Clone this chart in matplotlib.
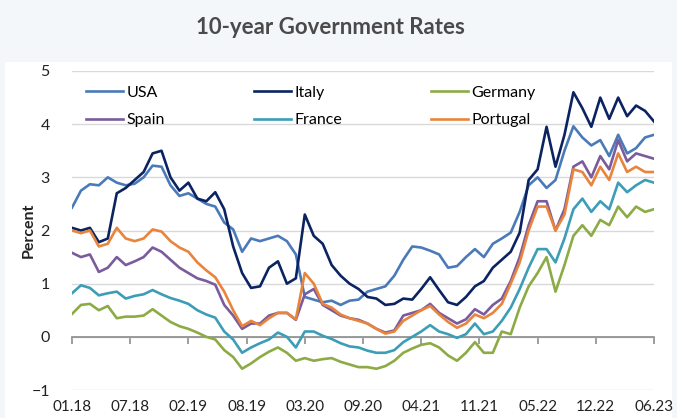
import numpy as np
import matplotlib
matplotlib.use('Agg')
import matplotlib.pyplot as plt

plt.rcParams['font.family'] = ['Lato', 'DejaVu Sans']

# month index: 0 = Jan 2018 ... 65 = Jun 2023
months = list(range(66))

usa = [2.43, 2.75, 2.87, 2.85, 3.0, 2.9, 2.85, 2.88, 3.0, 3.22, 3.2, 2.85,
       2.65, 2.7, 2.6, 2.5, 2.45, 2.15, 2.02, 1.6, 1.85, 1.8, 1.85, 1.9,
       1.8, 1.55, 0.75, 0.7, 0.65, 0.68, 0.6, 0.68, 0.7, 0.85, 0.9, 0.95,
       1.15, 1.45, 1.7, 1.68, 1.62, 1.55, 1.3, 1.33, 1.5, 1.65, 1.5, 1.75,
       1.85, 1.96, 2.35, 2.85, 3.0, 2.8, 2.95, 3.5, 3.96, 3.75, 3.6, 3.7,
       3.4, 3.8, 3.45, 3.55, 3.75, 3.8]
italy = [2.05, 2.0, 2.05, 1.78, 1.85, 2.7, 2.8, 2.95, 3.1, 3.45, 3.5, 3.0,
         2.75, 2.9, 2.6, 2.55, 2.72, 2.4, 1.7, 1.2, 0.92, 0.95, 1.3, 1.42,
         1.0, 1.1, 2.3, 1.9, 1.75, 1.35, 1.15, 1.0, 0.9, 0.75, 0.72, 0.6,
         0.62, 0.72, 0.7, 0.9, 1.12, 0.88, 0.65, 0.6, 0.75, 0.95, 1.05, 1.3,
         1.45, 1.6, 1.96, 2.95, 3.15, 3.95, 3.2, 3.8, 4.6, 4.3, 3.95, 4.5,
         4.1, 4.5, 4.15, 4.35, 4.25, 4.05]
germany = [0.43, 0.6, 0.62, 0.5, 0.58, 0.35, 0.38, 0.38, 0.4, 0.52, 0.4, 0.28,
           0.2, 0.15, 0.08, 0.0, -0.05, -0.25, -0.38, -0.6, -0.5, -0.38, -0.28, -0.2,
           -0.3, -0.45, -0.4, -0.45, -0.42, -0.4, -0.47, -0.52, -0.57, -0.57, -0.6, -0.55,
           -0.45, -0.3, -0.22, -0.15, -0.12, -0.2, -0.35, -0.45, -0.3, -0.1, -0.3, -0.3,
           0.1, 0.05, 0.55, 0.95, 1.2, 1.5, 0.85, 1.35, 1.9, 2.1, 1.9, 2.2,
           2.1, 2.45, 2.25, 2.45, 2.35, 2.4]
spain = [1.58, 1.5, 1.55, 1.22, 1.3, 1.5, 1.35, 1.42, 1.5, 1.68, 1.6, 1.45,
         1.3, 1.2, 1.1, 1.05, 0.98, 0.6, 0.4, 0.15, 0.25, 0.25, 0.4, 0.45,
         0.45, 0.32, 0.8, 0.9, 0.6, 0.5, 0.4, 0.35, 0.32, 0.25, 0.15, 0.08,
         0.12, 0.4, 0.45, 0.5, 0.62, 0.45, 0.35, 0.25, 0.33, 0.52, 0.42, 0.6,
         0.72, 1.05, 1.5, 2.1, 2.55, 2.55, 2.0, 2.4, 3.2, 3.3, 3.0, 3.4,
         3.15, 3.7, 3.3, 3.45, 3.4, 3.35]
france = [0.82, 0.97, 0.92, 0.78, 0.82, 0.85, 0.72, 0.77, 0.8, 0.88, 0.8, 0.73,
          0.68, 0.62, 0.5, 0.42, 0.36, 0.1, -0.05, -0.3, -0.2, -0.12, -0.05, 0.08,
          0.0, -0.2, 0.1, 0.1, 0.02, -0.04, -0.12, -0.18, -0.2, -0.26, -0.3, -0.3,
          -0.25, -0.1, 0.0, 0.1, 0.22, 0.1, 0.05, -0.02, 0.05, 0.25, 0.05, 0.1,
          0.3, 0.55, 0.9, 1.3, 1.65, 1.65, 1.4, 1.85, 2.4, 2.6, 2.35, 2.55,
          2.4, 2.9, 2.72, 2.85, 2.95, 2.9]
portugal = [2.0, 1.95, 2.0, 1.7, 1.75, 2.05, 1.85, 1.8, 1.85, 2.02, 1.98, 1.8,
            1.68, 1.6, 1.4, 1.25, 1.12, 0.85, 0.5, 0.2, 0.3, 0.22, 0.35, 0.45,
            0.45, 0.33, 1.2, 1.0, 0.62, 0.55, 0.42, 0.35, 0.3, 0.25, 0.15, 0.06,
            0.1, 0.3, 0.4, 0.5, 0.58, 0.42, 0.28, 0.17, 0.25, 0.42, 0.35, 0.45,
            0.62, 1.0, 1.4, 2.0, 2.45, 2.45, 2.0, 2.3, 3.15, 3.1, 2.85, 3.2,
            2.95, 3.45, 3.1, 3.2, 3.1, 3.1]

tick_labels = ['01.18', '07.18', '02.19', '08.19', '03.20', '09.20',
               '04.21', '11.21', '05.22', '12.22', '06.23']
tick_pos = np.linspace(0, 65, len(tick_labels))

series = [('USA', usa, '#4A7AB8'), ('Italy', italy, '#0B2361'),
          ('Germany', germany, '#8CAB45'), ('Spain', spain, '#7A5B9C'),
          ('France', france, '#3C9DB7'), ('Portugal', portugal, '#E9843C')]

fig = plt.figure(figsize=(6.77, 4.18), dpi=100)
fig.patch.set_facecolor('#F4F7FA')

# white chart area behind the plot
bg = fig.add_axes([5 / 677, 0, 667 / 677, 1 - 62 / 418])
bg.set_facecolor('white')
bg.set_xticks([])
bg.set_yticks([])
for sp in bg.spines.values():
    sp.set_visible(False)

ax = fig.add_axes([72 / 677, 1 - 390 / 418, 582 / 677, 319 / 418])
ax.set_facecolor('white')

lines = {}
for name, vals, col in series:
    ln, = ax.plot(months, vals, color=col, lw=1.9, label=name, zorder=3)
    lines[name] = ln

ax.set_xlim(0, 65)
ax.set_ylim(-1, 5)
ax.set_yticks(range(-1, 6))
ax.grid(axis='y', color='#D9D9D9', lw=1)
ax.set_axisbelow(True)
for sp in ['top', 'right', 'left']:
    ax.spines[sp].set_visible(False)
ax.spines['bottom'].set_position(('data', 0))
ax.spines['bottom'].set_color('#8C8C8C')
ax.spines['bottom'].set_linewidth(1.2)
ax.set_xticks(tick_pos)
ax.tick_params(axis='x', labelbottom=False, length=5, direction='out',
               color='#8C8C8C', width=1.2)
ax.tick_params(axis='y', length=0, pad=16, labelsize=11.5, labelcolor='#222222')

sec = ax.secondary_xaxis('bottom')
sec.set_xticks(tick_pos, tick_labels)
sec.spines['bottom'].set_visible(False)
sec.tick_params(length=0, pad=7, labelsize=11, labelcolor='#222222')

ax.set_ylabel('Percent', fontsize=11.5, fontweight='bold', color='#222222',
              labelpad=-3)

order = ['USA', 'Spain', 'Italy', 'France', 'Germany', 'Portugal']
ax.legend([lines[n] for n in order], order, ncol=3, loc='upper left',
          bbox_to_anchor=(0.0, 1.0), frameon=False, fontsize=11.5,
          handlelength=2.3, handletextpad=0.2, columnspacing=5.6,
          labelspacing=0.85)

fig.text(330 / 677, 1 - 27 / 418, '10-year Government Rates', ha='center',
         va='center', fontsize=16, fontweight='bold', color='#4A4A4A')

fig.savefig('out.png', dpi=100)
